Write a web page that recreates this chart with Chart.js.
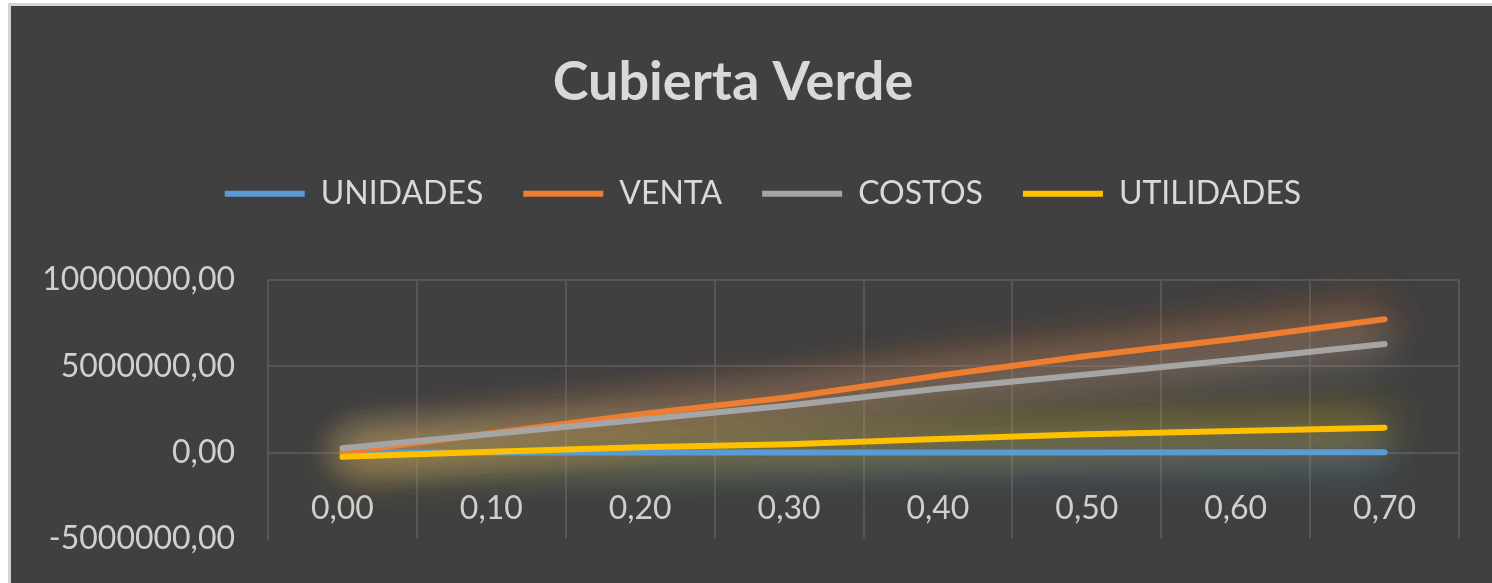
<!DOCTYPE html>
<html>
<head>
<meta charset="utf-8">
<script src="https://cdn.jsdelivr.net/npm/chart.js@4/dist/chart.umd.min.js"></script>
<style>
  body { margin: 0; background: #ffffff; overflow: hidden; }
  #frame {
    position: absolute; left: 8px; top: 3px;
    width: 1484px; height: 590px; overflow: hidden;
    border-left: 3px solid #d4d4d4; border-top: 3px solid #d4d4d4;
    background: #404040;
  }
  canvas { display: block; }
</style>
</head>
<body>
<div id="frame"><canvas id="myChart" width="1481" height="585"></canvas></div>
<script>
// categories on the x axis
const categorias = ['0,00', '0,10', '0,20', '0,30', '0,40', '0,50', '0,60', '0,70'];

// series values
const unidades   = [0, 1800, 3500, 5300, 7100, 8800, 10600, 12400];
const venta      = [0, 1120000, 2220000, 3200000, 4450000, 5600000, 6600000, 7730000];
const costos     = [250000, 1080000, 1900000, 2720000, 3700000, 4520000, 5380000, 6290000];
const utilidades = [-250000, 40000, 300000, 480000, 780000, 1060000, 1250000, 1440000];

// y axis ticks
const yTicks = [-5000000, 0, 5000000, 10000000];

const azul = '#5b9bd5', naranja = '#ed7d31', gris = '#a5a5a5', amarillo = '#ffc000';

// soft glow behind every line (Excel "glow" effect)
const glow = {
  id: 'glow',
  afterLayout(chart) {
    // legend sits a bit right of the title in the original
    chart.legend.left += 28;
    chart.legend.right += 28;
    chart.titleBlock.left -= 2;
    chart.titleBlock.right -= 2;
  },
  beforeDatasetsDraw(chart) {
    const ctx = chart.ctx;
    chart.getSortedVisibleDatasetMetas().slice().reverse().forEach(meta => {
      const col = meta.dataset.options.borderColor;
      for (let k = 0; k < 2; k++) {
        ctx.save();
        ctx.translate(-5000, 0);
        ctx.shadowOffsetX = 5000;
        ctx.shadowBlur = 45;
        ctx.shadowColor = col;
        meta.dataset.draw(ctx, chart.chartArea);
        ctx.restore();
      }
    });
  }
};

function linea(label, data, color, order) {
  return {
    label: label,
    data: data,
    borderColor: color,
    backgroundColor: color,
    borderWidth: 6,
    borderCapStyle: 'round',
    borderJoinStyle: 'round',
    pointRadius: 0,
    pointHoverRadius: 0,
    tension: 0,
    order: order
  };
}

function chart(){
  var ctx = document.getElementById('myChart').getContext('2d');
  var myChart = new Chart(ctx, {
    type: 'line',
    data: {
      labels: categorias,
      datasets: [
        linea('UNIDADES', unidades, azul, 4),
        linea('VENTA', venta, naranja, 3),
        linea('COSTOS', costos, gris, 2),
        linea('UTILIDADES', utilidades, amarillo, 1)
      ]
    },
    plugins: [glow],
    options: {
      responsive: false,
      animation: false,
      layout: { autoPadding: false, padding: { left: 0, right: 33, top: 20, bottom: 47 } },
      plugins: {
        tooltip: { enabled: false },
        title: {
          display: true,
          text: 'Cubierta Verde',
          color: '#d9d9d9',
          font: { family: 'Lato, "Open Sans", sans-serif', size: 54, weight: 'bold' },
          padding: { top: 24, bottom: 23 }
        },
        subtitle: {
          display: true,
          text: '',
          position: 'top',
          weight: 500,
          font: { size: 1 },
          padding: { top: 59, bottom: 0 }
        },
        legend: {
          display: true,
          position: 'top',
          labels: {
            color: '#d9d9d9',
            font: { family: 'Lato, "Open Sans", sans-serif', size: 32 },
            usePointStyle: true,
            pointStyle: 'line',
            pointStyleWidth: 80,
            padding: 40,
            sort: (a, b) => a.datasetIndex - b.datasetIndex
          }
        }
      },
      scales: {
        x: {
          type: 'category',
          position: { y: 0 },
          offset: true,
          afterFit: function(scale) { scale.height = 0; },
          grid: { offset: true, color: '#565656', lineWidth: 2, drawTicks: false },
          border: { display: false },
          ticks: {
            color: '#d0d0d0',
            padding: 37,
            maxRotation: 0,
            autoSkip: false,
            font: { family: 'Lato, "Open Sans", sans-serif', size: 32 }
          }
        },
        y: {
          min: yTicks[0],
          max: yTicks[yTicks.length - 1],
          afterFit: function(scale) { scale.width = 257; },
          afterBuildTicks: function(scale) { scale.ticks = yTicks.map(v => ({ value: v })); },
          grid: {
            drawTicks: false,
            lineWidth: 2,
            color: c => (c.tick && c.tick.value === yTicks[0]) ? 'rgba(0,0,0,0)' : '#565656'
          },
          border: { display: true, color: '#565656', width: 2 },
          ticks: {
            color: '#d0d0d0',
            padding: 33,
            font: { family: 'Lato, "Open Sans", sans-serif', size: 32 },
            callback: v => v.toFixed(2).replace('.', ',')
          }
        }
      }
    }
  });
  return myChart;
}

chart()
</script>
</body>
</html>
